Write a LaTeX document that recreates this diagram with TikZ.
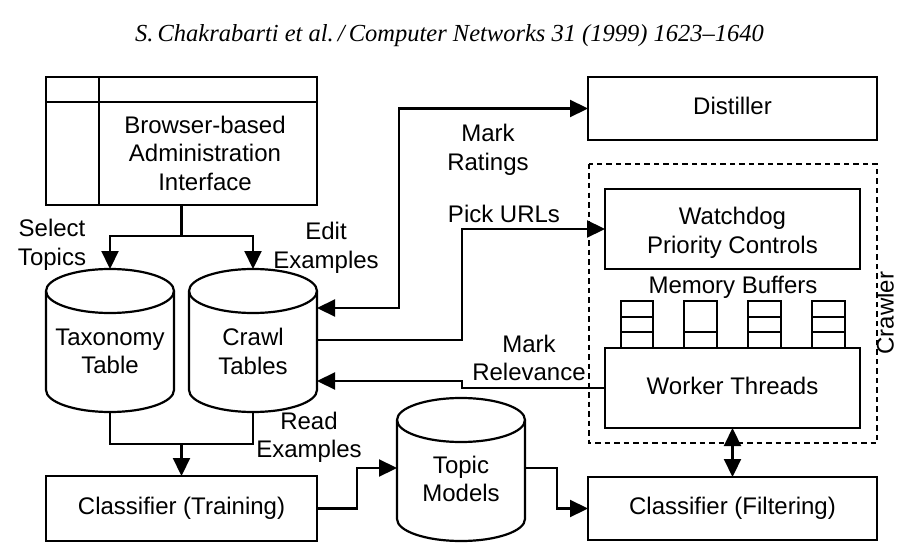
\documentclass[tikz,border=0pt]{standalone}
\usepackage{fontspec}
\setmainfont{Liberation Sans}
\newfontfamily\hdrfont{Liberation Serif}
\usetikzlibrary{arrows.meta}
\begin{document}
\begin{tikzpicture}[x=1pt,y=-1pt,
  line width=2.2pt,
  >={Triangle[length=18pt,width=17pt]},
  every node/.style={font=\fontsize{24}{28.5}\selectfont, align=center, inner sep=0pt, outer sep=0pt},
  blk/.style 2 args={draw, line width=2.2pt, minimum width=#1, minimum height=#2},
  one/.style={text height=17.5pt, text depth=5pt},
  cylbody/.style={minimum width=128pt, minimum height=143pt},
  crawlbox/.style={draw, line width=2.2pt, dash pattern=on 5.5pt off 4pt},
  conn/.style={line width=2.2pt},
]
\useasboundingbox[fill=white] (0,0) rectangle (904,548);

% header
\node[anchor=base] (hdr) at (449.5,42) {\hdrfont\itshape\fontsize{24.5}{28}\selectfont S.\,Chakrabarti et al.\,/\,Computer Networks 31 (1999) 1623\textendash 1640};

% admin interface
\node[blk={271pt}{128pt}] (admin) at (181.5,141) {};
\draw (admin.west |- 0,102) -- (admin.east |- 0,102);
\draw (99,0 |- admin.north) -- (99,0 |- admin.south);
\node (admintext) at (205,153) {Browser-based\\Administration\\Interface};

% distiller
\node[blk={289pt}{63pt}, one] (distiller) at (732.5,108.5) {Distiller};

% crawler dashed region
\draw[crawlbox] (589,164) rectangle (877,443);
\node[rotate=90] (crawlerlbl) at (885,313) {Crawler};

% watchdog
\node[blk={255pt}{80pt}] (watchdog) at (732.5,229) {};
\node (watchtext) at (732.5,233) {Watchdog\\Priority Controls};

% memory buffers
\node[one] (membuf) at (733,287) {Memory Buffers};
\foreach \xa/\xb/\full in {621/653/1, 684/717/0, 748/781/1, 812/845/1} {
  \draw (\xa,301) rectangle (\xb,348);
  \draw (\xa,332) -- (\xb,332);
  \ifnum\full=1 \draw (\xa,317) -- (\xb,317); \fi
}

% worker threads
\node[blk={255pt}{80pt}, one] (worker) at (732.5,388) {Worker Threads};

% classifiers
\node[blk={271pt}{65pt}, one] (train) at (181.5,508.5) {Classifier (Training)};
\node[blk={289pt}{63pt}, one] (filter) at (732.5,508.5) {Classifier (Filtering)};

% cylinders
\node[cylbody] (tax) at (110,340.5) {};
\node[cylbody] (crawl) at (253,340.5) {};
\node[cylbody] (topic) at (461,469.5) {};
\foreach \c in {tax,crawl,topic} {
  \draw ([yshift=-22pt]\c.north west) -- ([yshift=22pt]\c.south west)
     arc[start angle=180,end angle=360,x radius=64pt,y radius=22pt]
     -- ([yshift=-22pt]\c.north east)
     arc[start angle=0,end angle=180,x radius=64pt,y radius=22pt] -- cycle;
  \draw ([yshift=-22pt]\c.north west)
     arc[start angle=180,end angle=360,x radius=64pt,y radius=22pt];
}
\node (taxtext) at (110,351.5) {Taxonomy\\Table};
\node (crawltext) at (253,351.5) {Crawl\\Tables};
\node (topictext) at (461,479) {Topic\\Models};

% connectors
\draw[conn,->] (admin.south) -- (admin.south |- 0,236) -| (tax.north);
\draw[conn,->] (admin.south |- 0,236) -| (crawl.north);
\draw[conn] (tax.south) -- (tax.south |- 0,444) -| (crawl.south);
\draw[conn,->] (train.north |- 0,444) -- (train.north);
\draw[conn,<->] (crawl.east |- 0,308) -- (399,308) |- (distiller.west);
\draw[conn,->] (crawl.east |- 0,340) -- (462,340) |- (watchdog.west);
\draw[conn,->] (worker.west) -- (462,388) -- (462,381) -- (crawl.east |- 0,381);
\draw[conn,->] (train.east) -| (357,468) -- (topic.west |- 0,468);
\draw[conn,->] (topic.east |- 0,468) -- (557,468) |- (filter.west);
\draw[conn,<->] (filter.north) -- (worker.south);

% labels
\node (lselect) at (52,245) {Select\\Topics};
\node (ledit) at (326,248) {Edit\\Examples};
\node (lratings) at (488,150) {Mark\\Ratings};
\node (lpick) at (504,213.5) {Pick URLs};
\node (lrel) at (529,358) {Mark\\Relevance};
\node (lread) at (309,437.5) {Read\\Examples};
\end{tikzpicture}
\end{document}
